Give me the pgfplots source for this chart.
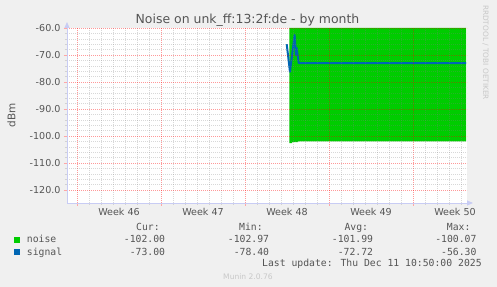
\documentclass[border=0pt]{standalone}
\usepackage{pgfplots}
\pgfplotsset{compat=1.18}
\usetikzlibrary{arrows.meta}
\usepackage{fontspec}
\setmainfont{DejaVu Sans}
\newfontfamily\lmono{DejaVu Sans Mono}
\definecolor{bg}{HTML}{F0F0F0}
\definecolor{txt}{HTML}{555555}
\definecolor{noisec}{HTML}{00CC00}
\definecolor{signalc}{HTML}{0066B3}
\definecolor{axisc}{HTML}{C8CCF4}
\definecolor{faint}{HTML}{C8C8C8}
\begin{document}
\begin{tikzpicture}
\useasboundingbox (0,0) rectangle (497bp,287bp);
\fill[bg] (0,0) rectangle (497bp,287bp);
\begin{axis}[
  at={(67bp,84bp)}, anchor=south west,
  scale only axis, width=400bp, height=175bp,
  xmin=0, xmax=33.3333, ymin=-124.8, ymax=-60,
  axis lines=left,
  axis line style={draw=axisc, line width=0.8bp, -{Triangle[width=5bp,length=6bp,fill=axisc]}, shorten >=-6bp},
  axis background/.style={fill=white},
  axis on top,
  tick align=outside,
  major tick length=3bp, minor tick length=2bp,
  major tick style={draw=red!35, line width=0.5bp},
  minor tick style={draw=gray!35, line width=0.5bp},
  grid=both,
  major grid style={draw=red, opacity=0.4, line width=0.6bp, dash pattern=on 1bp off 1bp},
  minor grid style={draw=gray, opacity=0.3, line width=0.6bp, dash pattern=on 1bp off 1bp},
  ytick={-120,-110,-100,-90,-80,-70,-60},
  yticklabels={-120.0,-110.0,-100.0,-90.0,-80.0,-70.0,-60.0},
  minor y tick num=4,
  yticklabel style={font=\fontsize{9.6}{11}\selectfont, text=txt},
  xtick={0.8333,7.8333,14.8333,21.8333,28.8333},
  xticklabels={},
  minor xtick={1.8333,2.8333,3.8333,4.8333,5.8333,6.8333,8.8333,9.8333,10.8333,11.8333,12.8333,13.8333,15.8333,16.8333,17.8333,18.8333,19.8333,20.8333,22.8333,23.8333,24.8333,25.8333,26.8333,27.8333,29.8333,30.8333,31.8333,32.8333},
  extra x ticks={4.3333,11.3333,18.3333,25.3333,32.3333},
  extra x tick labels={Week 46,Week 47,Week 48,Week 49,Week 50},
  extra x tick style={grid=none, major tick length=0pt, major tick style={draw=none},
    xticklabel style={font=\fontsize{9.6}{11}\selectfont, text=txt, yshift=-1.5bp}},
]
\addplot[fill=noisec, draw=none] coordinates {
  (18.53,-60) (18.53,-102.6) (18.77,-102.6) (18.77,-102.3) (19.27,-102.3)
  (19.27,-102.0) (33.25,-102.0) (33.25,-60)} -- cycle;
\addplot[signalc, line width=2bp, line join=round] coordinates {
  (18.31,-66) (18.58,-76.2) (18.97,-62.6) (19.08,-70) (19.14,-67.4)
  (19.31,-73) (33.25,-73)};
\end{axis}
\node[anchor=base, text=txt, font=\fontsize{12.5}{14}\selectfont, inner sep=0] at (247.5bp,263bp) {Noise on unk\_ff:13:2f:de - by month};
\node[rotate=90, text=txt, font=\fontsize{10.5}{12}\selectfont, inner sep=0] at (11.5bp,171.5bp) {dBm};
\node[rotate=-90, text=faint, font=\fontsize{7.4}{9}\selectfont, inner sep=0] at (485.5bp,234.5bp) {RRDTOOL / TOBI OETIKER};
% legend
\begin{scope}[every node/.style={inner sep=0, text=txt, font=\lmono\fontsize{9.8}{11}\selectfont}]
\node[anchor=base west] at (136bp,56.3bp) {Cur:};
\node[anchor=base west] at (239bp,56.3bp) {Min:};
\node[anchor=base west] at (344.3bp,56.3bp) {Avg:};
\node[anchor=base west] at (446.7bp,56.3bp) {Max:};
\fill[noisec] (14bp,44bp) rectangle (20bp,50bp);
\node[anchor=base west] at (26.7bp,44.3bp) {noise};
\node[anchor=base east] at (165.3bp,44.3bp) {-102.00};
\node[anchor=base east] at (269.3bp,44.3bp) {-102.97};
\node[anchor=base east] at (373.3bp,44.3bp) {-101.99};
\node[anchor=base east] at (476.7bp,44.3bp) {-100.07};
\fill[signalc] (14bp,31.7bp) rectangle (20bp,37.7bp);
\node[anchor=base west] at (26.7bp,32bp) {signal};
\node[anchor=base east] at (165.3bp,32bp) {-73.00};
\node[anchor=base east] at (269.3bp,32bp) {-78.40};
\node[anchor=base east] at (373.3bp,32bp) {-72.72};
\node[anchor=base east] at (476.7bp,32bp) {-56.30};
\node[anchor=base west] at (262bp,20.3bp) {Last update: Thu Dec 11 10:50:00 2025};
\end{scope}
\node[text=faint, font=\fontsize{7.6}{9}\selectfont, inner sep=0] at (248bp,10.3bp) {Munin 2.0.76};
\end{tikzpicture}
\end{document}
